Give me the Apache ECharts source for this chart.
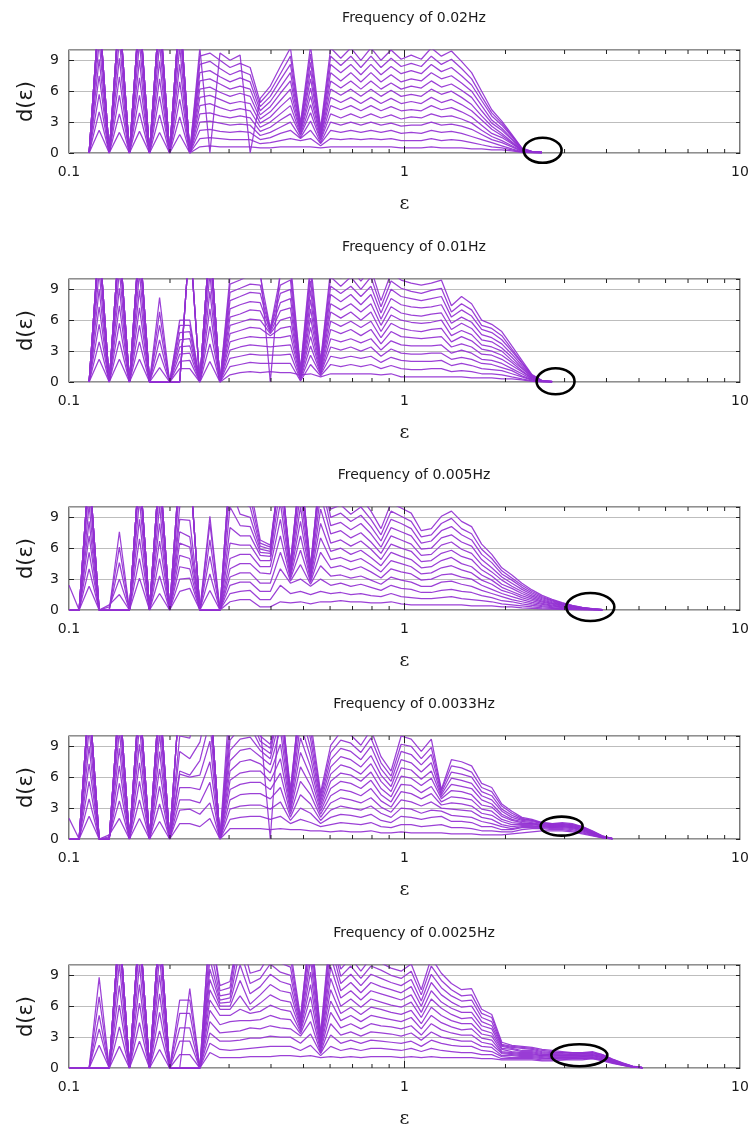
<!DOCTYPE html>
<html>
<head>
<meta charset="utf-8">
<script src="https://cdn.jsdelivr.net/npm/echarts@6/dist/echarts.min.js"></script>
<style>
html,body{margin:0;padding:0;background:#fff;}
#chart{width:755px;height:1131px;}
</style>
</head>
<body>
<div id="chart"></div>
<script>
// Radius grid (log spaced) shared by all panels
const epsilon = [0.1,0.1072,0.1148,0.1230,0.1318,0.1413,0.1514,0.1622,0.1738,0.1862,0.1995,0.2138,0.2291,0.2455,0.2630,0.2818,0.3020,0.3236,0.3467,0.3715,0.3981,0.4266,0.4571,0.4898,0.5248,0.5623,0.6026,0.6457,0.6918,0.7413,0.7943,0.8511,0.9120,0.9772,1.047,1.122,1.202,1.288,1.380,1.479,1.585,1.698,1.820,1.950,2.089,2.239,2.399,2.570,2.754,2.951,3.162,3.388,3.631,3.890,4.169,4.467,4.786,5.129];

const frequencies = ['0.02Hz', '0.01Hz', '0.005Hz', '0.0033Hz', '0.0025Hz'];

// Each row: d(eps) at one radius for embedding dimensions m = 1..13
const dim_0_02Hz = [
null,
null,
[0,0,0,0,0,0,0,0,0,0,0,0,0],
[2.2,4.0,5.7,7.5,9.1,10.8,12.5,14,14,14,14,14,14],
[0,0,0,0,0,0,0,0,0,0,0,0,0],
[2.0,3.8,5.6,7.4,9.2,11,12.8,14,14,14,14,14,14],
[0,0,0,0,0,0,0,0,0,0,0,0,0],
[2.1,3.9,5.6,7.3,9.0,10.7,12.4,14,14,14,14,14,14],
[0,0,0,0,0,0,0,0,0,0,0,0,0],
[2.0,3.7,5.5,7.2,8.9,10.6,12.3,14,14,14,14,14,14],
[0,0,0,0,0,0,0,0,0,0,0,0,0],
[1.8,3.5,5.2,6.9,8.6,10.3,12,14,14,14,14,14,14],
[0,0,0,0,0,0,0,0,0,0,0,0,0],
[0.6,1.4,2.2,3.0,3.8,4.6,5.4,6.2,7.0,7.8,8.6,9.4,10.2],
[0.7,1.5,2.3,3.1,3.9,4.8,5.6,6.4,7.2,8.0,8.9,9.7,0],
[0.6,1.4,2.1,2.9,3.6,4.4,5.2,5.9,6.7,7.4,8.2,9.0,9.7],
[0.6,1.3,2.0,2.7,3.4,4.1,4.8,5.5,6.2,6.9,7.6,8.3,9.0],
[0.6,1.3,2.1,2.8,3.6,4.3,5.0,5.8,6.5,7.3,8.0,8.7,9.5],
[0.6,1.3,2.0,2.7,3.4,4.1,4.8,5.5,6.2,6.9,7.6,8.3,0],
[0.5,0.9,1.3,1.7,2.1,2.5,2.9,3.3,3.7,4.1,4.5,4.9,5.3],
[0.5,1.0,1.5,2.0,2.5,3.0,3.5,4.0,4.5,5.0,5.5,6.0,6.5],
[0.6,1.2,1.9,2.5,3.2,3.8,4.5,5.1,5.8,6.4,7.1,7.7,8.4],
[0.6,1.4,2.2,3.0,3.8,4.6,5.4,6.2,7.0,7.8,8.6,9.4,10.2],
[0.6,1.2,1.4,1.5,1.7,1.8,2.0,2.1,2.3,2.4,2.6,2.7,2.9],
[0.6,1.4,2.2,3.1,3.9,4.7,5.5,6.3,7.2,8.0,8.8,9.6,10.4],
[0.5,0.7,0.9,1.0,1.2,1.3,1.5,1.6,1.8,1.9,2.1,2.2,2.4],
[0.6,1.4,2.2,3.0,3.8,4.6,5.4,6.2,7.0,7.8,8.6,9.4,10.2],
[0.6,1.3,2.0,2.7,3.4,4.2,4.9,5.6,6.3,7.0,7.8,8.5,9.2],
[0.6,1.4,2.2,3.0,3.8,4.6,5.4,6.2,7.0,7.8,8.6,9.4,10.2],
[0.6,1.3,2.0,2.7,3.4,4.1,4.8,5.5,6.2,6.9,7.6,8.3,9.0],
[0.6,1.4,2.2,3.0,3.8,4.6,5.4,6.2,7.0,7.8,8.6,9.4,10.2],
[0.6,1.3,2.0,2.7,3.4,4.1,4.8,5.5,6.2,6.9,7.6,8.3,9.0],
[0.6,1.4,2.2,2.9,3.7,4.5,5.3,6.1,6.8,7.6,8.4,9.2,10.0],
[0.5,1.2,1.9,2.6,3.3,4.1,4.8,5.5,6.2,6.9,7.7,8.4,9.1],
[0.5,1.2,2.0,2.7,3.5,4.2,5.0,5.7,6.5,7.2,8.0,8.7,9.5],
[0.5,1.2,1.9,2.7,3.4,4.1,4.8,5.5,6.3,7.0,7.7,8.4,9.1],
[0.6,1.4,2.2,3.0,3.8,4.6,5.4,6.2,7.0,7.8,8.6,9.4,10.2],
[0.5,1.2,2.0,2.7,3.5,4.2,4.9,5.7,6.4,7.2,7.9,8.6,9.4],
[0.5,1.3,2.1,2.8,3.6,4.4,5.2,6.0,6.7,7.5,8.3,9.1,9.9],
[0.5,1.2,1.9,2.6,3.3,4.0,4.7,5.4,6.1,6.8,7.5,8.2,8.9],
[0.4,1.0,1.6,2.3,2.9,3.5,4.1,4.7,5.4,6.0,6.6,7.2,7.8],
[0.4,0.8,1.3,1.8,2.2,2.7,3.2,3.6,4.1,4.6,5.1,5.5,6.0],
[0.3,0.6,1.0,1.3,1.6,1.9,2.3,2.6,2.9,3.2,3.6,3.9,4.2],
[0.3,0.5,0.7,1.0,1.2,1.5,1.7,1.9,2.2,2.4,2.7,2.9,3.1],
[0.2,0.3,0.4,0.6,0.7,0.9,1.0,1.1,1.3,1.4,1.6,1.7,1.8],
[0.05,0.09,0.12,0.16,0.19,0.23,0.26,0.3,0.33,0.37,0.4,0.44,0.47],
[0.03,0.04,0.05,0.06,0.07,0.08,0.09,0.1,0.11,0.12,0.13,0.14,0.15],
[0.02,0.02,0.03,0.03,0.04,0.04,0.05,0.05,0.06,0.06,0.07,0.07,0.08]
];

const dim_0_01Hz = [
null,
null,
[0,0,0,0,0,0,0,0,0,0,0,0,0],
[2.2,3.9,5.6,7.3,9.0,10.7,12.4,14,14,14,14,14,14],
[0,0,0,0,0,0,0,0,0,0,0,0,0],
[2.2,4.0,5.7,7.4,9.1,10.8,12.5,14,14,14,14,14,14],
[0,0,0,0,0,0,0,0,0,0,0,0,0],
[2.2,3.9,5.5,7.2,8.9,10.6,12.3,14,14,14,14,14,14],
[0,0,0,0,0,0,0,0,0,0,0,0,0],
[1.4,2.8,4.1,5.5,6.8,8.2,0,0,0,0,0,0,0],
[0,0,0,0,0,0,0,0,0,0,0,0,0],
[1.3,2.0,2.7,3.4,4.1,4.8,5.5,6.0,0,0,0,0,0],
[1.3,2.1,2.8,3.5,4.2,4.9,5.5,6.0,14,14,14,14,14],
[0,0,0,0,0,0,0,0,0,0,0,0,0],
[2.0,3.7,5.4,7.1,8.8,10.5,12.2,14,14,14,14,14,14],
[0,0,0,0,0,0,0,0,0,0,0,0,0],
[0.7,1.5,2.3,3.1,3.9,4.7,5.5,6.3,7.1,7.9,8.7,9.5,10.3],
[0.9,1.7,2.5,3.4,4.2,5.0,5.8,6.6,7.5,8.3,9.1,9.9,10.7],
[1.0,1.9,2.7,3.6,4.4,5.3,6.1,7.0,7.8,8.7,9.5,10.4,11.2],
[0.9,1.8,2.6,3.5,4.3,5.2,6.0,6.9,7.7,8.6,9.4,10.3,11.1],
[1.0,1.8,2.6,3.4,4.3,4.5,4.7,4.8,5.0,5.0,5.1,5.2,0],
[0.9,1.8,2.6,3.5,4.3,5.2,6.0,6.9,7.7,8.6,9.4,10.3,11.1],
[0.9,1.8,2.7,3.6,4.5,5.4,6.3,7.2,8.1,9.0,9.9,10.8,11.7],
[0.7,0.1,0.2,0.3,0.4,0.5,0.6,0.7,0.8,0.9,1.0,1.1,1.2],
[0.8,1.7,2.6,3.5,4.4,5.3,6.2,7.1,8.0,8.9,9.8,10.7,11.6],
[0.5,0.6,0.7,0.8,0.9,1.0,1.2,1.3,1.5,1.6,1.7,1.9,2.0],
[0.8,1.7,2.5,3.4,4.2,5.1,5.9,6.8,7.6,8.5,9.3,10.2,11.0],
[0.8,1.5,2.3,3.1,3.9,4.7,5.4,6.2,7.0,7.8,8.6,9.3,10.1],
[0.8,1.7,2.5,3.4,4.2,5.1,5.9,6.8,7.6,8.5,9.3,10.2,11.0],
[0.8,1.5,2.3,3.0,3.8,4.5,5.3,6.0,6.8,7.5,8.3,9.0,9.8],
[0.8,1.7,2.5,3.4,4.2,5.1,5.9,6.8,7.6,8.5,9.3,10.2,11.0],
[0.7,1.3,1.9,2.5,3.1,3.7,4.3,4.9,5.5,6.1,6.7,7.3,7.9],
[0.8,1.6,2.4,3.2,4.0,4.9,5.7,6.5,7.3,8.1,9.0,9.8,10.6],
[0.5,1.3,2.1,2.8,3.6,4.4,5.2,6.0,6.7,7.5,8.3,9.1,9.9],
[0.5,1.2,2.0,2.7,3.5,4.3,5.0,5.8,6.5,7.3,8.1,8.8,9.6],
[0.5,1.2,2.0,2.7,3.5,4.2,4.9,5.7,6.4,7.2,7.9,8.6,9.4],
[0.5,1.3,2.0,2.8,3.5,4.3,5.1,5.8,6.6,7.3,8.1,8.9,9.6],
[0.5,1.3,2.1,2.8,3.6,4.4,5.2,6.0,6.7,7.5,8.3,9.1,9.9],
[0.5,1.0,1.6,2.2,2.8,3.4,3.9,4.5,5.1,5.7,6.3,6.8,7.4],
[0.5,1.1,1.8,2.4,3.1,3.7,4.4,5.0,5.7,6.3,7.0,7.6,8.3],
[0.4,1.0,1.6,2.2,2.8,3.4,4.0,4.6,5.2,5.8,6.4,7.0,7.6],
[0.4,0.8,1.3,1.8,2.2,2.7,3.2,3.6,4.1,4.6,5.1,5.5,6.0],
[0.4,0.8,1.2,1.7,2.1,2.6,3.0,3.4,3.9,4.3,4.8,5.2,5.6],
[0.3,0.7,1.1,1.4,1.8,2.2,2.6,3.0,3.3,3.7,4.1,4.5,4.9],
[0.3,0.5,0.8,1.1,1.3,1.6,1.9,2.1,2.4,2.7,3.0,3.2,3.5],
[0.2,0.3,0.5,0.6,0.8,1.0,1.1,1.3,1.4,1.6,1.8,1.9,2.1],
[0.06,0.12,0.17,0.23,0.28,0.34,0.39,0.45,0.5,0.56,0.61,0.67,0.72],
[0.02,0.03,0.04,0.05,0.06,0.07,0.08,0.09,0.1,0.11,0.12,0.13,0.14],
[0.01,0.01,0.02,0.02,0.02,0.03,0.03,0.03,0.04,0.04,0.04,0.05,0.05]
];

const dim_0_005Hz = [
[2.4,0,0,0,0,0,0,0,0,0,0,0,0],
[0,0,0,0,0,0,0,0,0,0,0,0,0],
[2.3,4.0,5.6,7.2,8.6,10.2,12,14,14,14,14,14,14],
[0,0,0,0,0,0,0,0,0,0,0,0,0],
[0.5,0.3,0,0,0,0,0,0,0,0,0,0,0],
[1.5,3.0,4.6,6.1,7.6,0,0,0,0,0,0,0,0],
[0,0,0,0,0,0,0,0,0,0,0,0,0],
[3.1,5.0,6.9,8.8,10.7,12.6,14,14,14,14,14,14,14],
[0,0,0,0,0,0,0,0,0,0,0,0,0],
[1.6,3.3,5.0,6.7,8.4,10.1,12,14,14,14,14,14,14],
[0,0,0,0,0,0,0,0,0,0,0,0,0],
[1.8,3.0,4.2,5.3,6.5,7.6,8.8,10,12,14,14,14,14],
[2.1,3.1,4.0,5.0,6.1,7.1,8.7,14,14,14,14,14,14],
[0,0,0,0,0,0,0,0,0,0,0,0,0],
[1.9,3.5,5.2,6.8,8.4,9.1,0,0,0,0,0,0,0],
[0,0,0,0,0,0,0,0,0,0,0,0,0],
[0.8,1.6,2.4,3.2,4.0,5.0,6.5,8.0,10,12,14,14,14],
[1.0,1.8,2.7,3.6,4.5,5.4,6.3,7.2,8.2,9.3,10.5,12,14],
[1.0,1.9,2.7,3.6,4.5,5.4,6.3,7.2,8.1,9.0,10,11,12],
[0.3,1.0,1.8,2.6,3.6,4.2,4.8,5.3,5.6,5.9,6.2,6.5,6.8],
[0.3,1.0,1.8,2.6,3.5,4.2,4.8,5.2,5.5,5.7,5.9,6.1,6.3],
[0.8,2.4,4.0,5.6,7.2,8.8,10.4,12,14,14,14,14,14],
[0.7,1.6,2.6,2.8,3.0,3.2,3.4,3.6,3.8,4.0,4.2,4.4,4.6],
[0.8,1.8,3.0,4.4,5.8,7.2,8.6,10,11.4,12.8,14,14,14],
[0.6,1.5,2.3,2.5,2.7,2.9,3.1,3.3,3.5,3.7,3.9,4.1,4.3],
[0.8,1.8,3.0,4.3,5.6,7.0,8.4,9.8,11.2,12.6,14,14,14],
[0.8,1.6,2.4,3.3,4.1,4.9,5.7,6.5,7.4,8.2,9.0,9.8,10.6],
[0.9,1.7,2.6,3.4,4.3,5.1,6.0,6.8,7.7,8.5,9.4,10.2,11.1],
[0.8,1.5,2.3,3.1,3.9,4.7,5.4,6.2,7.0,7.8,8.6,9.3,10.1],
[0.8,1.6,2.5,3.3,4.2,5.0,5.8,6.7,7.5,8.4,9.2,10.0,10.9],
[0.7,1.4,2.2,2.9,3.7,4.4,5.1,5.9,6.6,7.4,8.1,8.8,9.6],
[0.7,1.3,1.9,2.5,3.1,3.7,4.3,4.9,5.5,6.1,6.7,7.3,7.9],
[0.8,1.6,2.4,3.2,4.0,4.8,5.6,6.4,7.2,8.0,8.8,9.6,10.4],
[0.6,1.3,2.1,2.9,3.7,4.5,5.2,6.0,6.8,7.6,8.4,9.1,9.9],
[0.5,1.2,2.0,2.7,3.5,4.2,4.9,5.7,6.4,7.2,7.9,8.6,9.4],
[0.5,1.1,1.7,2.3,2.9,3.5,4.1,4.7,5.3,5.9,6.5,7.1,7.7],
[0.5,1.1,1.7,2.3,3.0,3.6,4.2,4.8,5.4,6.0,6.7,7.3,7.9],
[0.5,1.2,1.9,2.7,3.4,4.1,4.8,5.5,6.3,7.0,7.7,8.4,9.1],
[0.5,1.3,2.0,2.8,3.5,4.3,5.1,5.8,6.6,7.3,8.1,8.9,9.6],
[0.5,1.1,1.8,2.5,3.2,3.9,4.5,5.2,5.9,6.6,7.3,7.9,8.6],
[0.4,1.0,1.7,2.3,3.0,3.6,4.2,4.9,5.5,6.2,6.8,7.4,8.1],
[0.4,0.9,1.4,1.9,2.4,2.9,3.4,3.9,4.4,4.9,5.4,5.9,6.4],
[0.4,0.8,1.2,1.6,2.0,2.5,2.9,3.3,3.7,4.1,4.6,5.0,5.4],
[0.3,0.6,0.9,1.3,1.6,1.9,2.2,2.5,2.9,3.2,3.5,3.8,4.1],
[0.3,0.5,0.8,1.0,1.3,1.6,1.8,2.1,2.3,2.6,2.9,3.1,3.4],
[0.2,0.4,0.6,0.8,1.0,1.2,1.4,1.6,1.8,2.0,2.2,2.4,2.6],
[0.15,0.3,0.45,0.6,0.75,0.9,1.05,1.2,1.35,1.5,1.65,1.8,1.95],
[0.1,0.21,0.32,0.43,0.54,0.65,0.76,0.87,0.98,1.09,1.2,1.31,1.42],
[0.08,0.16,0.24,0.32,0.4,0.48,0.56,0.64,0.72,0.8,0.88,0.96,1.04],
[0.05,0.11,0.16,0.22,0.27,0.33,0.38,0.44,0.49,0.55,0.6,0.66,0.71],
[0.03,0.07,0.1,0.14,0.17,0.21,0.24,0.28,0.31,0.35,0.38,0.42,0.45],
[0.02,0.04,0.06,0.08,0.1,0.12,0.14,0.16,0.18,0.2,0.22,0.24,0.26],
[0.01,0.02,0.03,0.04,0.05,0.06,0.07,0.08,0.09,0.1,0.11,0.12,0.13],
[0.01,0.01,0.01,0.02,0.02,0.02,0.02,0.03,0.03,0.03,0.03,0.04,0.04]
];

const dim_0_0033Hz = [
[2.0,0,0,0,0,0,0,0,0,0,0,0,0],
[0,0,0,0,0,0,0,0,0,0,0,0,0],
[2.2,3.9,5.6,7.3,9.0,10.7,12.4,14,14,14,14,14,14],
[0,0,0,0,0,0,0,0,0,0,0,0,0],
[0.4,0.2,0,0,0,0,0,0,0,0,0,0,0],
[2.0,3.7,5.4,7.1,8.8,10.5,12.2,14,14,14,14,14,14],
[0,0,0,0,0,0,0,0,0,0,0,0,0],
[2.0,3.8,5.6,7.4,9.2,11,12.8,14,14,14,14,14,14],
[0,0,0,0,0,0,0,0,0,0,0,0,0],
[1.7,3.4,5.1,6.8,8.5,10.2,11.9,13.6,14,14,14,14,14],
[0,0,0,0,0,0,0,0,0,0,0,0,0],
[1.5,2.8,3.8,5.0,6.3,6.6,8.5,10,14,14,14,14,14],
[1.5,2.9,3.8,5.0,6.0,6.2,7.8,9.8,14,14,14,14,14],
[1.2,2.4,3.5,4.8,6.2,7.6,9.4,14,14,14,14,14,14],
[2.0,3.5,5.5,7.5,9.5,11.5,14,14,14,14,14,14,14],
[0,0,0,0,0,0,0,0,0,0,0,0,0],
[1.0,1.9,2.9,3.8,4.8,5.7,6.6,7.6,8.6,9.6,10.6,12,14],
[1.0,2.1,3.2,4.3,5.3,6.4,7.5,8.6,9.7,10.8,12,13,14],
[1.0,2.2,3.3,4.4,5.5,6.6,7.7,8.8,9.9,11,12,13,14],
[1.0,2.2,3.3,4.4,5.5,6.6,7.3,8.0,8.6,9.0,9.5,10,11],
[0.9,1.9,2.9,3.9,4.8,5.6,6.4,7.2,7.8,8.3,8.8,9.2,0],
[1.0,2.2,3.6,5.0,6.4,7.8,9.2,10.6,12,13.4,14,14,14],
[0.9,1.5,1.8,2.1,2.4,2.7,3.0,3.3,3.6,3.9,4.2,4.5,4.8],
[0.9,1.9,3.0,4.3,5.6,7.0,8.4,9.8,11.2,12.6,14,14,14],
[0.8,1.6,2.5,3.4,4.3,5.2,6.1,7.0,7.9,8.8,9.7,10.6,11.5],
[0.8,1.2,1.5,1.8,2.1,2.4,2.7,3.0,3.3,3.6,3.9,4.2,4.5],
[0.7,1.4,2.1,2.8,3.5,4.2,4.9,5.6,6.3,7.0,7.7,8.4,9.1],
[0.8,1.6,2.4,3.2,4.0,4.8,5.6,6.4,7.2,8.0,8.8,9.6,10.4],
[0.7,1.5,2.3,3.0,3.8,4.6,5.4,6.2,6.9,7.7,8.5,9.3,10.1],
[0.7,1.4,2.1,2.8,3.5,4.2,4.9,5.6,6.3,7.0,7.7,8.4,9.1],
[0.8,1.6,2.4,3.2,4.0,4.9,5.7,6.5,7.3,8.1,9.0,9.8,10.6],
[0.6,1.2,1.8,2.5,3.1,3.7,4.3,4.9,5.6,6.2,6.8,7.4,8.0],
[0.6,1.1,1.6,2.1,2.6,3.1,3.6,4.1,4.6,5.1,5.6,6.1,6.6],
[0.7,1.4,2.2,3.0,3.8,4.6,5.3,6.1,6.9,7.7,8.5,9.2,10.0],
[0.6,1.4,2.1,2.9,3.6,4.4,5.2,5.9,6.7,7.4,8.2,9.0,9.7],
[0.6,1.2,1.9,2.5,3.2,3.9,4.5,5.2,5.8,6.5,7.2,7.8,8.5],
[0.6,1.3,2.1,2.8,3.6,4.4,5.1,5.9,6.6,7.4,8.2,8.9,9.7],
[0.6,1.4,2.2,2.7,3.0,3.3,3.6,3.9,4.1,4.3,4.5,4.7,4.8],
[0.5,1.1,1.7,2.3,2.9,3.5,4.1,4.7,5.3,5.9,6.5,7.1,7.7],
[0.5,1.1,1.7,2.2,2.8,3.4,4.0,4.6,5.1,5.7,6.3,6.9,7.5],
[0.5,1.0,1.6,2.1,2.7,3.2,3.8,4.3,4.9,5.4,6.0,6.5,7.1],
[0.4,0.8,1.2,1.7,2.1,2.5,2.9,3.3,3.8,4.2,4.6,5.0,5.4],
[0.4,0.8,1.2,1.5,1.9,2.3,2.7,3.1,3.4,3.8,4.2,4.6,5.0],
[0.4,0.7,0.9,1.2,1.4,1.7,1.9,2.2,2.4,2.7,2.9,3.2,3.4],
[0.5,0.7,0.9,1.0,1.2,1.4,1.6,1.8,1.9,2.1,2.3,2.5,2.7],
[0.6,0.9,1.1,1.2,1.3,1.4,1.5,1.6,1.7,1.8,1.9,2.0,2.1],
[0.7,1.0,1.1,1.2,1.3,1.4,1.5,1.5,1.6,1.7,1.8,1.8,1.9],
[0.8,1.0,1.1,1.2,1.2,1.3,1.3,1.4,1.4,1.5,1.5,1.6,1.6],
[0.8,0.9,1.0,1.1,1.1,1.2,1.2,1.3,1.3,1.4,1.4,1.5,1.5],
[0.8,0.9,1.0,1.1,1.2,1.2,1.3,1.3,1.4,1.4,1.5,1.5,1.6],
[0.7,0.8,0.9,1.0,1.1,1.1,1.2,1.2,1.3,1.3,1.4,1.4,1.5],
[0.5,0.6,0.7,0.8,0.8,0.9,0.9,1.0,1.0,1.1,1.1,1.2,1.2],
[0.3,0.35,0.4,0.45,0.5,0.55,0.6,0.6,0.65,0.7,0.7,0.75,0.8],
[0.1,0.12,0.14,0.16,0.18,0.2,0.21,0.22,0.24,0.26,0.27,0.28,0.3],
[0.02,0.02,0.02,0.03,0.03,0.03,0.03,0.04,0.04,0.04,0.04,0.05,0.05]
];

const dim_0_0025Hz = [
[0,0,0,0,0,0,0,0,0,0,0,0,0],
[0,0,0,0,0,0,0,0,0,0,0,0,0],
[0,0,0,0,0,0,0,0,0,0,0,0,0],
[2.2,3.8,5.1,6.9,8.8,0,0,0,0,0,0,0,0],
[0,0,0,0,0,0,0,0,0,0,0,0,0],
[2.1,4.0,6.1,8.0,10.1,12,14,14,14,14,14,14,14],
[0,0,0,0,0,0,0,0,0,0,0,0,0],
[2.6,4.4,6.3,8.1,10,12,14,14,14,14,14,14,14],
[0,0,0,0,0,0,0,0,0,0,0,0,0],
[1.8,3.6,5.4,7.2,9.0,10.8,12.6,14,14,14,14,14,14],
[0,0,0,0,0,0,0,0,0,0,0,0,0],
[1.3,2.6,3.9,5.3,6.6,0,0,0,0,0,0,0,0],
[1.3,2.6,3.9,5.3,6.6,7.7,0,0,0,0,0,0,0],
[0,0,0,0,0,0,0,0,0,0,0,0,0],
[1.5,2.4,3.4,4.5,5.6,6.6,7.6,8.6,9.6,10.6,12,14,14],
[1.0,1.8,2.6,3.4,4.2,5.1,5.7,6.0,6.3,6.6,7.0,7.5,8.0],
[1.0,1.7,2.6,3.5,4.5,5.1,5.7,6.0,6.4,6.8,7.2,7.8,8.4],
[1.0,1.8,2.7,3.6,4.6,5.7,7.0,8.5,10,11.5,13,14,14],
[1.1,1.9,2.9,3.9,4.6,5.3,5.6,6.2,7.2,8.2,9.2,10.2,11.2],
[1.1,2.0,2.9,3.8,4.7,5.5,6.3,7.1,7.9,8.7,9.5,10.3,11.1],
[1.1,2.1,3.1,4.1,5.1,6.1,7.1,8.1,9.1,10.1,11.1,12.1,13.1],
[1.2,2.1,3.0,3.9,4.8,5.7,6.6,7.5,8.4,9.3,10.2,11.1,12],
[1.2,2.1,3.0,3.8,4.7,5.5,6.4,7.3,8.1,9.0,9.8,10.7,11.5],
[1.1,1.7,2.4,3.1,3.3,3.5,3.7,3.9,4.1,4.3,4.5,4.7,4.9],
[1.2,2.2,3.3,4.5,5.7,6.9,8.1,9.3,10.5,11.7,13,14,14],
[1.0,1.2,1.4,1.5,1.7,1.9,2.1,2.3,2.5,2.7,2.9,3.1,3.3],
[1.1,2.1,3.2,4.3,5.4,6.5,7.6,8.7,9.8,10.9,12,13,14],
[1.0,1.7,2.4,3.2,3.9,4.6,5.3,6.0,6.8,7.5,8.2,8.9,9.6],
[1.1,1.9,2.7,3.5,4.3,5.1,5.9,6.7,7.5,8.3,9.1,9.9,10.7],
[1.0,1.7,2.4,3.1,3.8,4.5,5.2,5.9,6.6,7.3,8.0,8.7,9.4],
[1.1,1.9,2.7,3.5,4.3,5.1,5.9,6.7,7.5,8.3,9.1,9.9,10.7],
[1.1,1.9,2.6,3.4,4.1,4.9,5.7,6.4,7.2,7.9,8.7,9.5,10.2],
[1.1,1.8,2.5,3.3,4.0,4.7,5.4,6.1,6.9,7.6,8.3,9.0,9.7],
[1.0,1.7,2.4,3.1,3.8,4.5,5.2,5.9,6.6,7.3,8.0,8.7,9.4],
[1.1,1.9,2.6,3.4,4.1,4.9,5.6,6.4,7.1,7.9,8.6,9.4,10.1],
[1.0,1.6,2.1,2.7,3.2,3.8,4.3,4.9,5.4,6.0,6.5,7.1,7.6],
[1.1,1.9,2.7,3.5,4.3,5.1,5.9,6.7,7.5,8.3,9.1,9.9,10.7],
[1.0,1.7,2.4,3.0,3.7,4.4,5.1,5.8,6.4,7.1,7.8,8.5,9.2],
[1.0,1.6,2.2,2.8,3.4,4.0,4.6,5.2,5.8,6.4,7.0,7.6,8.2],
[1.0,1.5,2.1,2.6,3.2,3.7,4.3,4.8,5.4,5.9,6.5,7.0,7.6],
[1.0,1.5,2.1,2.6,3.2,3.8,4.3,4.9,5.4,6.0,6.6,7.1,7.7],
[0.9,1.3,1.7,2.1,2.5,2.9,3.3,3.7,4.1,4.5,4.9,5.3,5.7],
[0.9,1.3,1.6,2.0,2.3,2.7,3.1,3.4,3.8,4.1,4.5,4.9,5.2],
[0.8,0.9,1.1,1.2,1.4,1.5,1.6,1.8,1.9,2.1,2.2,2.3,2.5],
[0.8,0.9,1.0,1.2,1.3,1.4,1.5,1.6,1.8,1.9,2.0,2.1,2.2],
[0.8,0.9,1.0,1.1,1.2,1.3,1.4,1.5,1.6,1.7,1.9,2.0,2.1],
[0.8,0.9,1.0,1.1,1.2,1.3,1.4,1.5,1.6,1.7,1.8,1.9,2.0],
[0.7,0.8,0.9,1.0,1.1,1.2,1.2,1.3,1.4,1.5,1.6,1.7,1.8],
[0.7,0.8,0.9,0.9,1.0,1.1,1.2,1.3,1.3,1.4,1.5,1.6,1.7],
[0.8,0.8,0.9,1.0,1.0,1.1,1.2,1.2,1.3,1.4,1.5,1.5,1.6],
[0.8,0.9,0.9,1.0,1.0,1.1,1.2,1.2,1.3,1.3,1.4,1.5,1.5],
[0.8,0.9,0.9,1.0,1.1,1.1,1.2,1.2,1.3,1.4,1.4,1.5,1.5],
[0.9,0.9,1.0,1.0,1.1,1.2,1.2,1.3,1.3,1.4,1.5,1.5,1.6],
[0.7,0.8,0.8,0.9,0.9,1.0,1.0,1.1,1.1,1.2,1.2,1.3,1.3],
[0.45,0.49,0.52,0.56,0.59,0.63,0.66,0.7,0.73,0.77,0.8,0.84,0.87],
[0.25,0.27,0.29,0.31,0.33,0.35,0.37,0.39,0.41,0.43,0.45,0.47,0.49],
[0.08,0.09,0.1,0.1,0.11,0.12,0.13,0.14,0.14,0.15,0.16,0.17,0.18],
[0.02,0.02,0.02,0.02,0.03,0.03,0.03,0.03,0.03,0.04,0.04,0.04,0.04]
];

const panelData = [dim_0_02Hz, dim_0_01Hz, dim_0_005Hz, dim_0_0033Hz, dim_0_0025Hz];

// Highlighted region of each panel: [epsilon, d(epsilon)]
const circledPoints = [[2.58, 0.26], [2.82, 0.07], [3.58, 0.29], [2.94, 1.25], [3.32, 1.24]];
const circleRadii = [[19, 12.5], [19, 13], [24, 14], [21, 9.5], [28, 11]];

// Axis settings
const xMinorTicks = [0.2, 0.3, 0.4, 0.5, 0.6, 0.7, 0.8, 0.9, 2, 3, 4, 5, 6, 7, 8, 9];
const xMajorTicks = [1];

const DIMS = 13;
const gridTops = [50, 279, 507, 736, 965];
const gridLeft = 69, gridWidth = 671, gridHeight = 103;
const lineColor = '#9330d2';
const textColor = '#1a1a1a';

const chart = echarts.init(document.getElementById('chart'), null, { renderer: 'canvas' });

const grids = [], xAxes = [], yAxes = [], series = [];
panelData.forEach((rows, p) => {
  grids.push({
    left: gridLeft, top: gridTops[p], width: gridWidth, height: gridHeight,
    show: true, borderColor: '#222', borderWidth: 1.2, backgroundColor: 'transparent'
  });
  xAxes.push({
    type: 'log', logBase: 10, min: 0.1, max: 10, gridIndex: p,
    name: 'ε', nameLocation: 'middle', nameGap: 42,
    nameTextStyle: { fontFamily: 'DejaVu Serif', fontSize: 19, color: textColor },
    axisLine: { show: false },
    axisTick: { show: false },
    axisLabel: { fontFamily: 'DejaVu Sans', fontSize: 14, color: textColor, margin: 12,
      formatter: v => String(v) },
    splitLine: { show: true, lineStyle: { color: '#bdbdbd', width: 1 } }
  });
  yAxes.push({
    type: 'value', min: 0, max: 10, interval: 3, gridIndex: p, position: 'left',
    name: 'd(ε)', nameLocation: 'middle', nameGap: 32,
    nameTextStyle: { fontFamily: 'DejaVu Sans', fontSize: 21, color: textColor },
    axisLine: { show: false },
    axisTick: { show: true, inside: true, length: 5, lineStyle: { color: '#222' } },
    axisLabel: { fontFamily: 'DejaVu Sans', fontSize: 14, color: textColor, margin: 10,
      showMaxLabel: false },
    splitLine: { show: true, lineStyle: { color: '#bdbdbd', width: 1 } }
  });
  yAxes.push({
    type: 'value', min: 0, max: 10, interval: 3, gridIndex: p, position: 'right',
    axisLine: { show: false },
    axisTick: { show: true, inside: true, length: 4, lineStyle: { color: '#222' } },
    axisLabel: { show: false },
    splitLine: { show: false }
  });
  for (let m = 0; m < DIMS; m++) {
    const data = [];
    rows.forEach((row, i) => { if (row) data.push([epsilon[i], row[m]]); });
    series.push({
      type: 'line', xAxisIndex: p, yAxisIndex: 2 * p, data,
      showSymbol: false, symbol: 'none', silent: true, clip: true,
      lineStyle: { color: lineColor, width: 1.25, opacity: 0.92 },
      itemStyle: { color: lineColor }, z: 3
    });
  }
});

chart.setOption({
  animation: false,
  backgroundColor: '#ffffff',
  grid: grids, xAxis: xAxes, yAxis: yAxes, series
});

// Titles, log-axis ticks and highlight ellipses
const graphics = [];
panelData.forEach((rows, p) => {
  const top = gridTops[p], bottom = gridTops[p] + gridHeight;
  graphics.push({
    type: 'text', x: 414, y: top - 32, z: 50,
    style: { text: 'Frequency of ' + frequencies[p], font: '14px "DejaVu Sans"', fill: textColor,
      textAlign: 'center', textVerticalAlign: 'middle', align: 'center', verticalAlign: 'middle' }
  });
  const addTick = (v, len) => {
    const x = chart.convertToPixel({ xAxisIndex: p }, v);
    graphics.push({ type: 'line', z: 40, silent: true,
      shape: { x1: x, y1: bottom, x2: x, y2: bottom - len }, style: { stroke: '#222', lineWidth: 1 } });
    graphics.push({ type: 'line', z: 40, silent: true,
      shape: { x1: x, y1: top, x2: x, y2: top + len }, style: { stroke: '#222', lineWidth: 1 } });
  };
  xMinorTicks.forEach(v => addTick(v, 4));
  xMajorTicks.forEach(v => addTick(v, 7));
  const c = chart.convertToPixel({ seriesIndex: p * DIMS }, circledPoints[p]);
  graphics.push({
    type: 'ellipse', z: 60, silent: true,
    shape: { cx: c[0], cy: c[1], rx: circleRadii[p][0], ry: circleRadii[p][1] },
    style: { fill: 'none', stroke: '#000', lineWidth: 2.6 }
  });
});
chart.setOption({ graphic: graphics });
</script>
</body>
</html>
